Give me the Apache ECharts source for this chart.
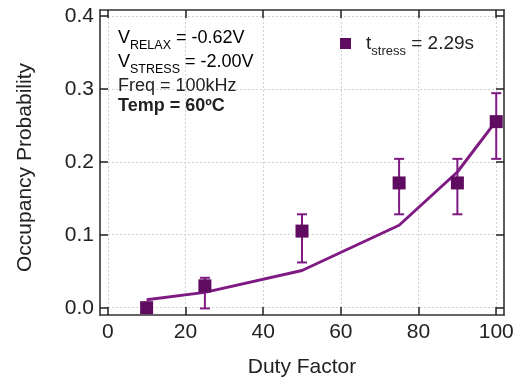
<!DOCTYPE html>
<html><head><meta charset="utf-8">
<script src="https://cdn.jsdelivr.net/npm/echarts@6/dist/echarts.min.js"></script>
<style>html,body{margin:0;padding:0;background:#fff}#c{width:518px;height:383px}</style>
</head><body><div id="c"></div>
<script>
const dutyFactor = [10, 25, 50, 75, 90, 100];
const occupancy = [0.0, 0.030, 0.105, 0.171, 0.171, 0.255];
const errLow = [0.0, -0.001, 0.062, 0.128, 0.128, 0.204];
const errHigh = [0.0, 0.041, 0.128, 0.204, 0.204, 0.294];
const modelX = [10, 25, 50, 75, 90, 100];
const modelY = [0.011, 0.021, 0.051, 0.113, 0.186, 0.256];
const xTicks = [0, 20, 40, 60, 80, 100];
const yTicks = [0, 0.1, 0.2, 0.3, 0.4];

const FONT = '"Liberation Sans", Arial, sans-serif';
const frame = '#333333';
const markerColor = '#5E0B60';
const lineColor = '#7E1A82';

const chart = echarts.init(document.getElementById('c'));
const gridLine = {show: true, lineStyle: {color: '#d2d2d2', type: [2, 2], width: 1}};
function xAx(pos, main) {
  return {
    type: 'value', position: pos, min: -2, max: 102,
    name: main ? 'Duty Factor' : '', nameLocation: 'middle', nameGap: 42,
    nameTextStyle: {fontFamily: FONT, fontSize: 21, color: '#222'},
    axisLine: {show: true, onZero: false, lineStyle: {color: frame, width: 1.6}},
    axisTick: {show: true, inside: true, length: 8, customValues: xTicks, lineStyle: {color: '#222', width: 1.5}},
    axisLabel: {show: main, customValues: xTicks, fontFamily: FONT, fontSize: 21, color: '#222', margin: 7},
    splitLine: main ? gridLine : {show: false}
  };
}
function yAx(pos, main) {
  return {
    type: 'value', position: pos, min: -0.01, max: 0.408,
    name: main ? 'Occupancy Probability' : '', nameLocation: 'middle', nameGap: 64,
    nameTextStyle: {fontFamily: FONT, fontSize: 21, color: '#222', padding: [0, 10, 0, 0]},
    axisLine: {show: true, onZero: false, lineStyle: {color: frame, width: 1.6}},
    axisTick: {show: true, inside: true, length: 8, customValues: yTicks, lineStyle: {color: '#222', width: 1.5}},
    axisLabel: {show: main, customValues: yTicks, fontFamily: FONT, fontSize: 21, color: '#222', margin: 6,
      padding: [3, 0, 0, 0], formatter: v => v.toFixed(1)},
    splitLine: main ? gridLine : {show: false}
  };
}
const sub = {fontFamily: FONT, fontSize: 12.5, color: '#222', verticalAlign: 'bottom', padding: [0, 0, -5, 0]};
const txt = {fontFamily: FONT, fontSize: 18, color: '#222'};
chart.setOption({
  animation: false,
  grid: {left: 100, right: 14, top: 10, bottom: 66},
  xAxis: [xAx('bottom', true), xAx('top', false)],
  yAxis: [yAx('left', true), yAx('right', false)],
  legend: {
    show: true, left: 340, top: 34, itemWidth: 11, itemHeight: 11, itemGap: 10, padding: 0,
    data: [{name: 'tstress', icon: 'rect'}],
    formatter: () => '{a|t}{s|stress}{a| = 2.29s}',
    textStyle: {padding: [0, 0, 0, 10], rich: {a: {fontFamily: FONT, fontSize: 19, color: '#222'}, s: {fontFamily: FONT, fontSize: 13, color: '#222', verticalAlign: 'bottom', padding: [0, 0, -5, 0]}}}
  },
  graphic: [
    {type: 'text', z: 100, left: 118, top: 29, style: {text: '{a|V}{s|RELAX}{a| = -0.62V}', rich: {a: txt, s: sub}}},
    {type: 'text', z: 100, left: 118, top: 53, style: {text: '{a|V}{s|STRESS}{a| = -2.00V}', rich: {a: txt, s: sub}}},
    {type: 'text', z: 100, left: 118, top: 77, style: {text: 'Freq = 100kHz', fontFamily: FONT, fontSize: 18, fill: '#222'}},
    {type: 'text', z: 100, left: 118, top: 97, style: {text: 'Temp = 60ºC', fontFamily: FONT, fontSize: 18, fontWeight: 'bold', fill: '#222'}}
  ],
  series: [
    {type: 'line', name: 'model', data: modelX.map((x, i) => [x, modelY[i]]), showSymbol: false,
      lineStyle: {color: lineColor, width: 3}, z: 3},
    {type: 'custom', name: 'err', data: dutyFactor.map((x, i) => [x, errLow[i], errHigh[i]]), z: 4,
      renderItem: (params, api) => {
        const lo = api.coord([api.value(0), api.value(1)]);
        const hi = api.coord([api.value(0), api.value(2)]);
        if (Math.abs(hi[1] - lo[1]) < 1) return null;
        const w = 5;
        const st = {stroke: lineColor, lineWidth: 2};
        return {type: 'group', children: [
          {type: 'line', shape: {x1: lo[0], y1: lo[1], x2: hi[0], y2: hi[1]}, style: st},
          {type: 'line', shape: {x1: lo[0] - w, y1: lo[1], x2: lo[0] + w, y2: lo[1]}, style: st},
          {type: 'line', shape: {x1: hi[0] - w, y1: hi[1], x2: hi[0] + w, y2: hi[1]}, style: st}
        ]};
      }},
    {type: 'scatter', name: 'tstress', data: dutyFactor.map((x, i) => [x, occupancy[i]]), symbol: 'rect', symbolSize: 13,
      itemStyle: {color: markerColor, opacity: 1}, z: 5}
  ]
});
</script></body></html>
